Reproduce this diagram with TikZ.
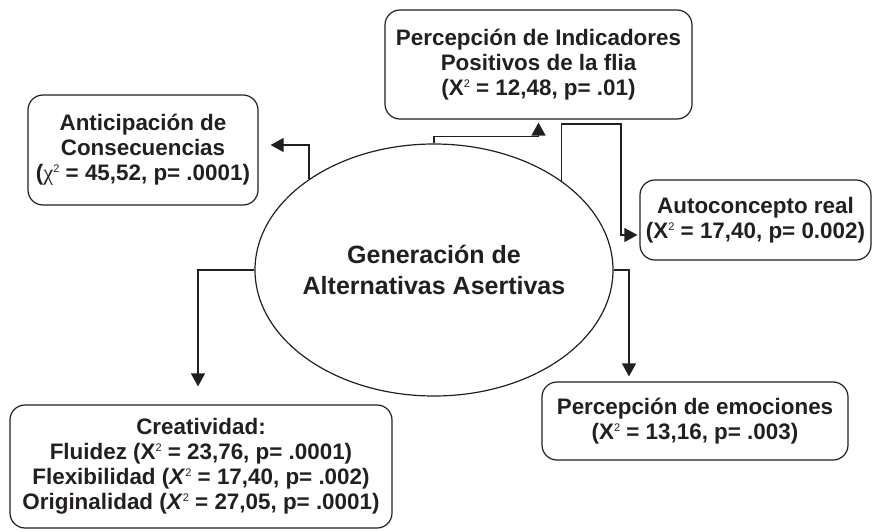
\documentclass[tikz,border=0pt]{standalone}
\usepackage{fontspec}
\setmainfont{Liberation Sans}
\newfontfamily\grk{Liberation Serif}
\usetikzlibrary{arrows.meta,calc,shapes.geometric}
\definecolor{ink}{HTML}{231F20}
\newcommand{\sq}{\raisebox{8pt}{\fontsize{11}{11}\selectfont\mdseries 2}}
\begin{document}
\begin{tikzpicture}[x=1pt,y=-1pt,
  box/.style={draw=ink, line width=1.2pt, rounded corners=15pt, align=center,
    inner sep=0pt, font=\fontsize{22.4}{25}\selectfont\bfseries, text=ink},
  arr/.style={draw=ink, line width=1.2pt, -{Triangle[length=13pt,width=14pt]}}]
\useasboundingbox (0,0) rectangle (873,532);
\node[ellipse, draw=ink, line width=1.2pt, minimum width=358pt, minimum height=252pt,
  inner sep=0pt] (E) at (434,270) {};
\node[align=center, font=\fontsize{25}{31}\selectfont\bfseries, text=ink] (Et) at (E.center)
  {Generación de\\Alternativas Asertivas};
\node[box, minimum width=230pt, minimum height=110pt] (A) at (143,150)
  {Anticipación de\\Consecuencias\\({\grk\mdseries χ}\sq{} = 45,52, p= .0001)};
\node[box, minimum width=307pt, minimum height=109pt] (I) at (538.5,64.5)
  {Percepción de Indicadores\\Positivos de la flia\\(X\sq{} = 12,48, p= .01)};
\node[box, minimum width=231pt, minimum height=80pt] (Au) at (755.5,220)
  {Autoconcepto real\\(X\sq{} = 17,40, p= 0.002)};
\node[box, minimum width=306pt, minimum height=78pt] (Em) at (695,421)
  {Percepción de emociones\\(X\sq{} = 13,16, p= .003)};
\node[box, minimum width=382pt, minimum height=123pt] (C) at (201,466.5)
  {Creatividad:\\Fluidez (X\sq{} = 23,76, p= .0001)\\Flexibilidad (\textit{X}\sq{} = 17,40, p= .002)\\Originalidad (\textit{X}\sq{} = 27,05, p= .0001)};
\coordinate (k1) at (621,124);
\draw[arr] (E.144.6) |- ([xshift=12pt,yshift=5pt]A.east);
\draw[arr] (E.north) -- ++(0,-7) -| ([yshift=-3pt]I.south);
\draw[arr] (E.35.2) |- (k1) |- ([xshift=-2pt,yshift=-15pt]Au.west);
\draw[arr] (E.east) -| ($(Em.north)+(-66,-5)$);
\draw[arr] (E.west) -| ($(C.north)+(-3,-18)$);
\end{tikzpicture}
\end{document}
